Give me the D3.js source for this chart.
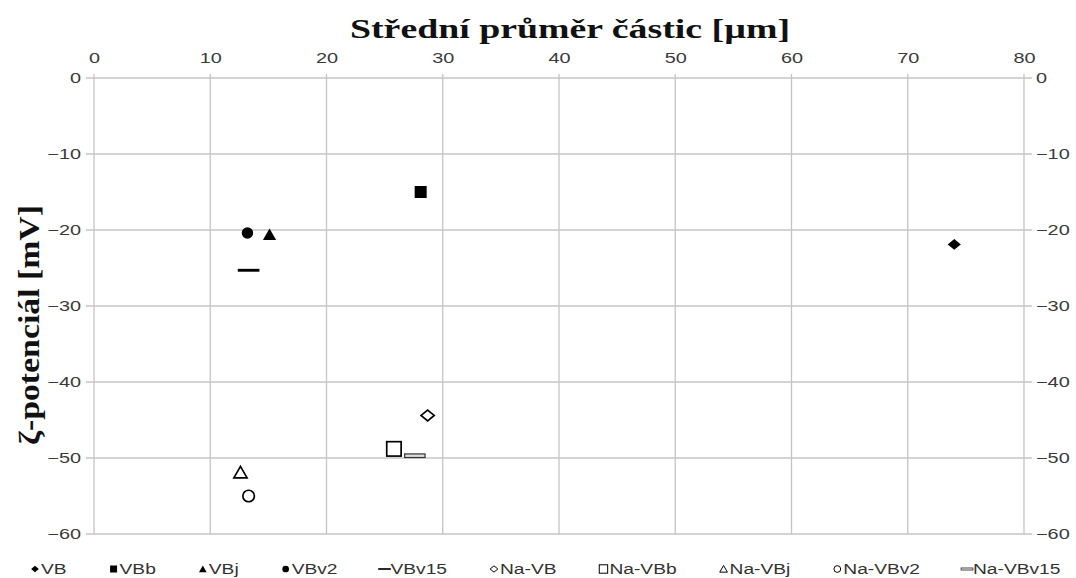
<!DOCTYPE html>
<html>
<head>
<meta charset="utf-8">
<script src="https://cdn.jsdelivr.net/npm/d3@7"></script>
<style>
  body { margin: 0; background: #fff; }
  svg { display: block; }
  .tick text { font-family: "Liberation Sans", Arial, sans-serif; font-size: 14.5px; fill: #3a3a3a; }
  .grid line { stroke: #c4c4c4; stroke-width: 1.3; }
  .title { font-family: "Liberation Serif", "Times New Roman", serif; font-weight: bold; fill: #111; }
  .legend text { font-family: "Liberation Sans", Arial, sans-serif; font-size: 14px; fill: #333; }
</style>
</head>
<body>
<svg width="1076" height="578"></svg>
<script>
// data
const series = ["VB", "VBb", "VBj", "VBv2", "VBv15", "Na-VB", "Na-VBb", "Na-VBj", "Na-VBv2", "Na-VBv15"];
const diameter = [74, 28.1, 15.1, 13.2, 13.3, 28.7, 25.8, 12.6, 13.3, 27.6];
const potential = [-21.9, -15, -20.6, -20.4, -25.3, -44.4, -48.8, -51.9, -55, -49.7];
const xTicks = [0, 10, 20, 30, 40, 50, 60, 70, 80];
const yTicks = [0, -10, -20, -30, -40, -50, -60];

// marker style per series
const shapes = ["diamond", "square", "triangle", "circle", "dash", "diamond", "square", "triangle", "circle", "bar"];
const filled = [true, true, true, true, true, false, false, false, false, false];

const svg = d3.select("svg");
const margin = {left: 94, right: 52, top: 78, bottom: 44};
const width = 1076, height = 578;
const stretch = 1.37; // the original text is drawn wide

const x = d3.scaleLinear().domain([0, 80]).range([margin.left, width - margin.right]);
const y = d3.scaleLinear().domain([0, -60]).range([margin.top, height - margin.bottom]);

// grid
const grid = svg.append("g").attr("class", "grid");
grid.selectAll("line.v").data(xTicks).enter().append("line")
  .attr("x1", d => x(d)).attr("x2", d => x(d))
  .attr("y1", y(0) - 4).attr("y2", y(-60));
grid.selectAll("line.h").data(yTicks).enter().append("line")
  .attr("x1", x(0) - 8).attr("x2", x(80) + 8)
  .attr("y1", d => y(d)).attr("y2", d => y(d));

// axes (labels only, lines drawn by grid)
const fmt = d3.format("d");
function wide(g) {
  g.select(".domain").remove();
  g.selectAll(".tick text").attr("transform", `scale(${stretch},1)`);
}
svg.append("g").attr("transform", `translate(0,${y(0) - 15})`)
  .call(d3.axisTop(x).tickValues(xTicks).tickFormat(fmt).tickSize(0).tickPadding(0))
  .call(wide);
svg.append("g").attr("transform", `translate(${x(0) - 13},0)`)
  .call(d3.axisLeft(y).tickValues(yTicks).tickFormat(fmt).tickSize(0).tickPadding(0))
  .call(wide);
svg.append("g").attr("transform", `translate(${x(80) + 12},0)`)
  .call(d3.axisRight(y).tickValues(yTicks).tickFormat(fmt).tickSize(0).tickPadding(0))
  .call(wide);

// titles
svg.append("text").attr("class", "title")
  .attr("x", 570).attr("y", 38)
  .attr("text-anchor", "middle").style("font-size", "28px")
  .attr("textLength", 440).attr("lengthAdjust", "spacingAndGlyphs")
  .text("Střední průměr částic [µm]");
svg.append("text").attr("class", "title")
  .attr("transform", "translate(39,325) rotate(-90)")
  .attr("text-anchor", "middle").style("font-size", "30px")
  .attr("textLength", 240).attr("lengthAdjust", "spacingAndGlyphs")
  .text("ζ-potenciál [mV]");

// marker drawing
function drawMarker(sel, shape, full, s) {
  const fill = full ? "#000" : "#fff";
  const stroke = "#000";
  const sw = full ? 0 : Math.max(1, s * 0.14);
  if (shape === "diamond") {
    sel.append("path").attr("d", `M0,${-s*0.45}L${s*0.55},0L0,${s*0.45}L${-s*0.55},0Z`)
      .attr("fill", fill).attr("stroke", stroke).attr("stroke-width", sw);
  } else if (shape === "square") {
    const h = full ? s * 0.5 : s * 0.6;
    sel.append("rect").attr("x", -h).attr("y", -h).attr("width", 2*h).attr("height", 2*h)
      .attr("fill", fill).attr("stroke", stroke).attr("stroke-width", sw);
  } else if (shape === "triangle") {
    sel.append("path").attr("d", `M0,${-s*0.5}L${s*0.55},${s*0.45}L${-s*0.55},${s*0.45}Z`)
      .attr("fill", fill).attr("stroke", stroke).attr("stroke-width", sw);
  } else if (shape === "circle") {
    sel.append("circle").attr("r", s * 0.48)
      .attr("fill", fill).attr("stroke", stroke).attr("stroke-width", sw);
  } else if (shape === "dash") {
    sel.append("rect").attr("x", -s*0.9).attr("y", -s*0.12).attr("width", s*1.8).attr("height", s*0.24)
      .attr("fill", "#000");
  } else if (shape === "bar") {
    sel.append("rect").attr("x", -s*0.85).attr("y", -s*0.15).attr("width", s*1.7).attr("height", s*0.3)
      .attr("fill", "#ddd").attr("stroke", "#333").attr("stroke-width", Math.max(0.8, s*0.1));
  }
}

// points
const pts = svg.append("g");
series.forEach(function(name, i) {
  const g = pts.append("g").attr("transform", `translate(${x(diameter[i])},${y(potential[i])})`);
  drawMarker(g, shapes[i], filled[i], 12);
});

// legend
const legend = svg.append("g").attr("class", "legend");
let lx = 35;
series.forEach(function(name, i) {
  const item = legend.append("g").attr("transform", `translate(${lx},574)`);
  drawMarker(item.append("g").attr("transform", "translate(0,-5)"), shapes[i], filled[i], 7);
  const t = item.append("text").attr("transform", `translate(6,0) scale(${stretch},1)`).text(name);
  lx += 6 + t.node().getComputedTextLength() * stretch + 47;
});
</script>
</body>
</html>
